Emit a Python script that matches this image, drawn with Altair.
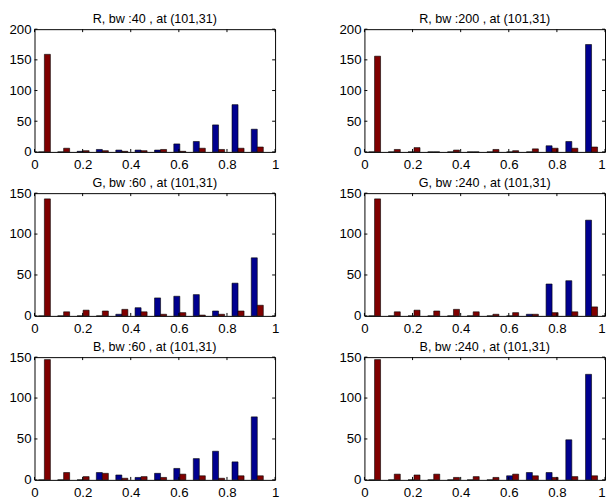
import altair as alt
import pandas as pd

# bin centres: left column and right column histograms
centers_left = [0.041, 0.121, 0.202, 0.282, 0.363, 0.443, 0.524, 0.604, 0.685, 0.765, 0.846, 0.926]
centers_right = [0.042, 0.124, 0.206, 0.288, 0.370, 0.452, 0.534, 0.616, 0.698, 0.780, 0.862, 0.944]

# panel titles
titles = [
    "R, bw :40 , at (101,31)", "R, bw :200 , at (101,31)",
    "G, bw :60 , at (101,31)", "G, bw :240 , at (101,31)",
    "B, bw :60 , at (101,31)", "B, bw :240 , at (101,31)",
]

# counts (blue series, red series)
r40_blue = [0, 0, 1, 4, 3, 3, 3, 13, 17, 44, 77, 37]
r40_red = [159, 6, 2, 2, 1, 2, 4, 1, 6, 4, 6, 8]
r200_blue = [0, 0, 0, 0, 0, 0, 0, 0, 0, 10, 17, 175]
r200_red = [156, 4, 7, 0, 3, 0, 4, 2, 5, 6, 6, 8]
g60_blue = [0, 0, 0, 0, 2, 10, 22, 24, 26, 6, 40, 71]
g60_red = [143, 5, 7, 6, 8, 5, 2, 4, 1, 2, 6, 13]
g240_blue = [0, 0, 0, 0, 0, 0, 0, 0, 2, 39, 43, 117]
g240_red = [143, 5, 7, 6, 8, 5, 2, 4, 2, 4, 5, 11]
b60_blue = [0, 0, 0, 9, 6, 3, 8, 14, 26, 35, 22, 77]
b60_red = [147, 9, 4, 8, 2, 4, 3, 7, 5, 2, 5, 5]
b240_blue = [0, 0, 0, 0, 0, 0, 0, 5, 9, 9, 49, 129]
b240_red = [147, 7, 6, 7, 3, 4, 3, 7, 5, 3, 4, 5]

y_max = [200, 200, 150, 150, 150, 150]
x_ticks = [0, 0.2, 0.4, 0.6, 0.8, 1.0]

FONT = "Liberation Sans"
BLUE = "#00008F"
RED = "#800000"
BAR_W = 0.025
W = 245
H = 125
TICK = 3


def panel(title, blue, red, ymax, centers, right_col):
    rows = []
    for c, b, r in zip(centers, blue, red):
        rows.append({"x0": c - BAR_W, "x1": c, "n": b, "s": "blue"})
        rows.append({"x0": c, "x1": c + BAR_W, "n": r, "s": "red"})
    df = pd.DataFrame(rows)
    y_ticks = list(range(0, ymax + 1, 50))
    xs = alt.Scale(domain=[0, 1], nice=False, zero=False)
    ys = alt.Scale(domain=[0, ymax], nice=False)
    if right_col:
        xa = alt.Axis(values=x_ticks, format="~g", title=None,
                      labelAlign={"expr": "datum.value === 1 ? 'right' : 'center'"})
    else:
        xa = alt.Axis(values=x_ticks, format="~g", title=None)
    ya = alt.Axis(values=y_ticks, title=None)
    bars = alt.Chart(df).mark_rect(stroke="black", strokeWidth=0.6).encode(
        x=alt.X("x0:Q", scale=xs, axis=xa),
        x2="x1",
        y=alt.Y("n:Q", scale=ys, axis=ya),
        y2=alt.datum(0),
        color=alt.Color("s:N", scale=alt.Scale(domain=["blue", "red"], range=[BLUE, RED]), legend=None),
    )
    xt = pd.DataFrame({"x0": x_ticks})
    yt = pd.DataFrame({"n": y_ticks})
    bottom = alt.Chart(xt).mark_rule(color="black", strokeWidth=1).encode(
        x=alt.X("x0:Q", scale=xs, axis=xa), y=alt.value(H), y2=alt.value(H - TICK))
    top = alt.Chart(xt).mark_rule(color="black", strokeWidth=1).encode(
        x=alt.X("x0:Q", scale=xs, axis=xa), y=alt.value(0), y2=alt.value(TICK))
    left = alt.Chart(yt).mark_rule(color="black", strokeWidth=1).encode(
        y=alt.Y("n:Q", scale=ys, axis=ya), x=alt.value(0), x2=alt.value(TICK))
    right = alt.Chart(yt).mark_rule(color="black", strokeWidth=1).encode(
        y=alt.Y("n:Q", scale=ys, axis=ya), x=alt.value(W), x2=alt.value(W - TICK))
    return alt.layer(bars, bottom, top, left, right).properties(
        width=W, height=H, title=alt.Title(title))


data = [(r40_blue, r40_red), (r200_blue, r200_red), (g60_blue, g60_red),
        (g240_blue, g240_red), (b60_blue, b60_red), (b240_blue, b240_red)]

panels = []
for i, (t, (b, r), ym) in enumerate(zip(titles, data, y_max)):
    right_col = i % 2 == 1
    panels.append(panel(t, b, r, ym, centers_right if right_col else centers_left, right_col))

rows = [alt.hconcat(panels[2 * k], panels[2 * k + 1], spacing=59) for k in range(3)]
chart = alt.vconcat(*rows, spacing=5).properties(padding=0).configure_view(
    stroke="black", strokeWidth=1
).configure_axis(
    labelFont=FONT, labelFontSize=13.5, labelColor="black", ticks=False, domain=False,
    grid=False,
).configure_axisX(labelPadding=6, labelFlush=False).configure_axisY(labelPadding=3.5).configure_title(
    font=FONT, fontSize=12.8, fontWeight="normal", color="black", offset=-4, anchor="middle"
)

chart.save("out.html", embed_options={"renderer": "svg", "actions": False})
